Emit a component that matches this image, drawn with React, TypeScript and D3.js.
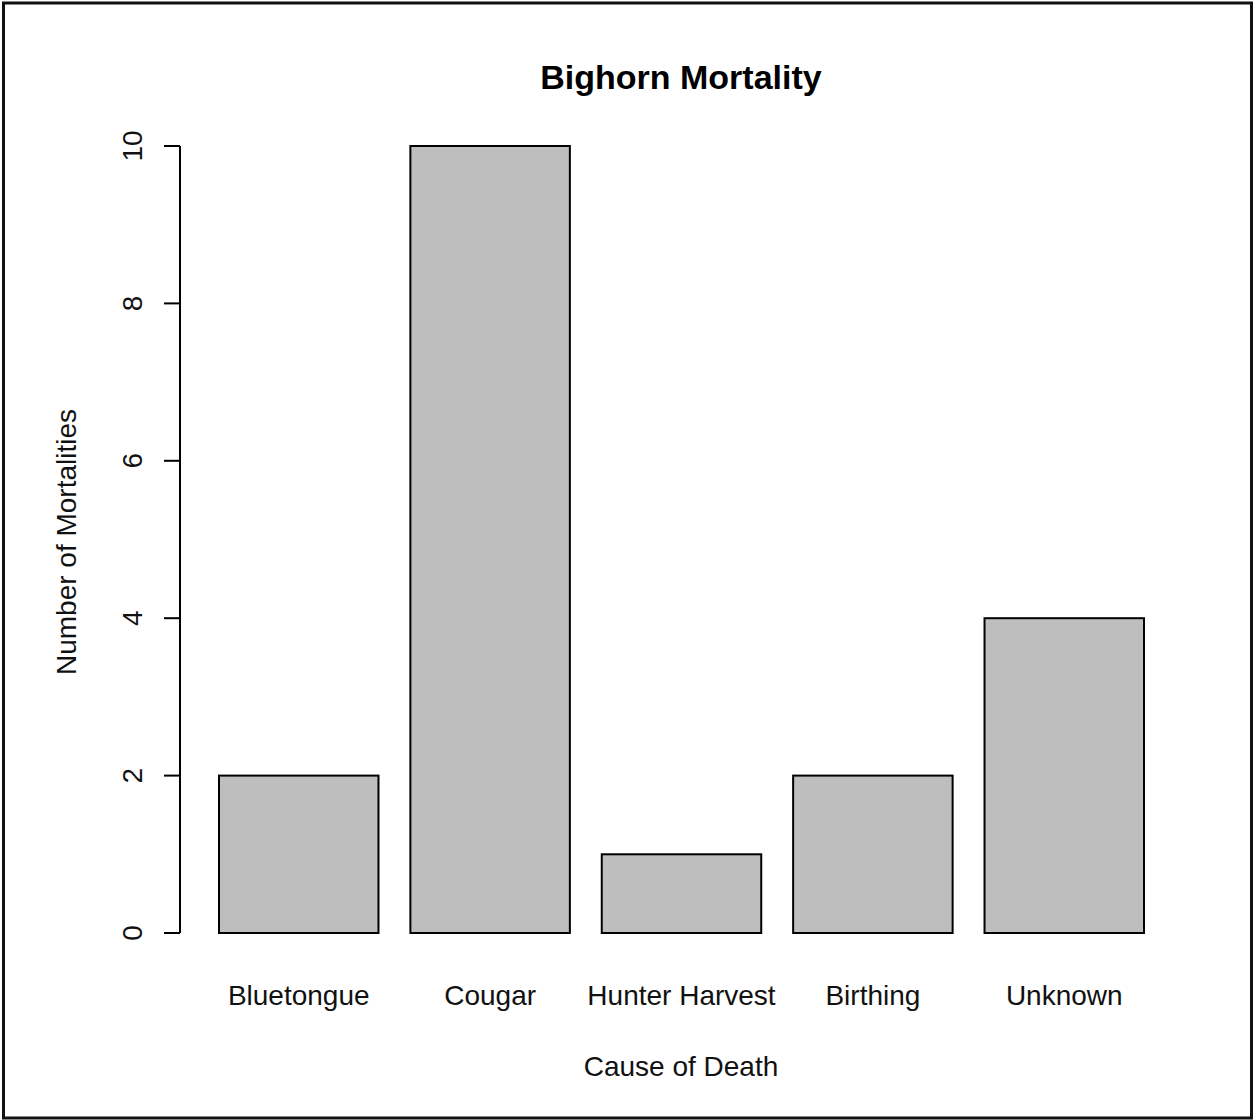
import * as d3 from 'd3'

const causes = ['Bluetongue', 'Cougar', 'Hunter Harvest', 'Birthing', 'Unknown']
const mortalities = [2, 10, 1, 2, 4]
const yTicks = [0, 2, 4, 6, 8, 10]

const W = 1254
const H = 1120
const FONT = '"Liberation Sans", Arial, sans-serif'

export default function App() {
  // barplot-style layout: width 1, space 0.2
  const x = d3
    .scaleBand<string>()
    .domain(causes)
    .range([219, 1144])
    .paddingInner(0.2 / 1.2)
    .paddingOuter(0)

  const y = d3.scaleLinear().domain([0, 10]).range([933, 146])

  const axisX = 180

  return (
    <svg
      width={W}
      height={H}
      style={{ position: 'absolute', left: 0, top: 0, background: '#fff' }}
      fontFamily={FONT}
    >
      <rect x={0} y={0} width={W} height={H} fill="#fff" />
      <rect x={3.5} y={3} width={1248} height={1115} fill="none" stroke="#111" strokeWidth={3} />

      {/* 제목 */}
      <text x={681} y={89} textAnchor="middle" fontSize={34} fontWeight="bold" fill="#000">
        Bighorn Mortality
      </text>

      {/* 막대 */}
      {causes.map((c, i) => (
        <rect
          key={c}
          x={x(c)}
          y={y(mortalities[i])}
          width={x.bandwidth()}
          height={y(0) - y(mortalities[i])}
          fill="#bebebe"
          stroke="#000"
          strokeWidth={2}
        />
      ))}

      {/* y축 */}
      <line x1={axisX} x2={axisX} y1={y(0)} y2={y(10)} stroke="#000" strokeWidth={2} />
      {yTicks.map(t => (
        <g key={t}>
          <line x1={axisX - 16} x2={axisX} y1={y(t)} y2={y(t)} stroke="#000" strokeWidth={2} />
          <text
            transform={`translate(142,${y(t)}) rotate(-90)`}
            textAnchor="middle"
            fontSize={28}
            fill="#111"
          >
            {t}
          </text>
        </g>
      ))}

      {/* 범주 레이블 */}
      {causes.map(c => (
        <text
          key={c}
          x={(x(c) || 0) + x.bandwidth() / 2}
          y={1005}
          textAnchor="middle"
          fontSize={28}
          fill="#111"
        >
          {c}
        </text>
      ))}

      <text x={681} y={1076} textAnchor="middle" fontSize={28} fill="#111">
        Cause of Death
      </text>
      <text transform="translate(76,542) rotate(-90)" textAnchor="middle" fontSize={28} fill="#111">
        Number of Mortalities
      </text>
    </svg>
  )
}
